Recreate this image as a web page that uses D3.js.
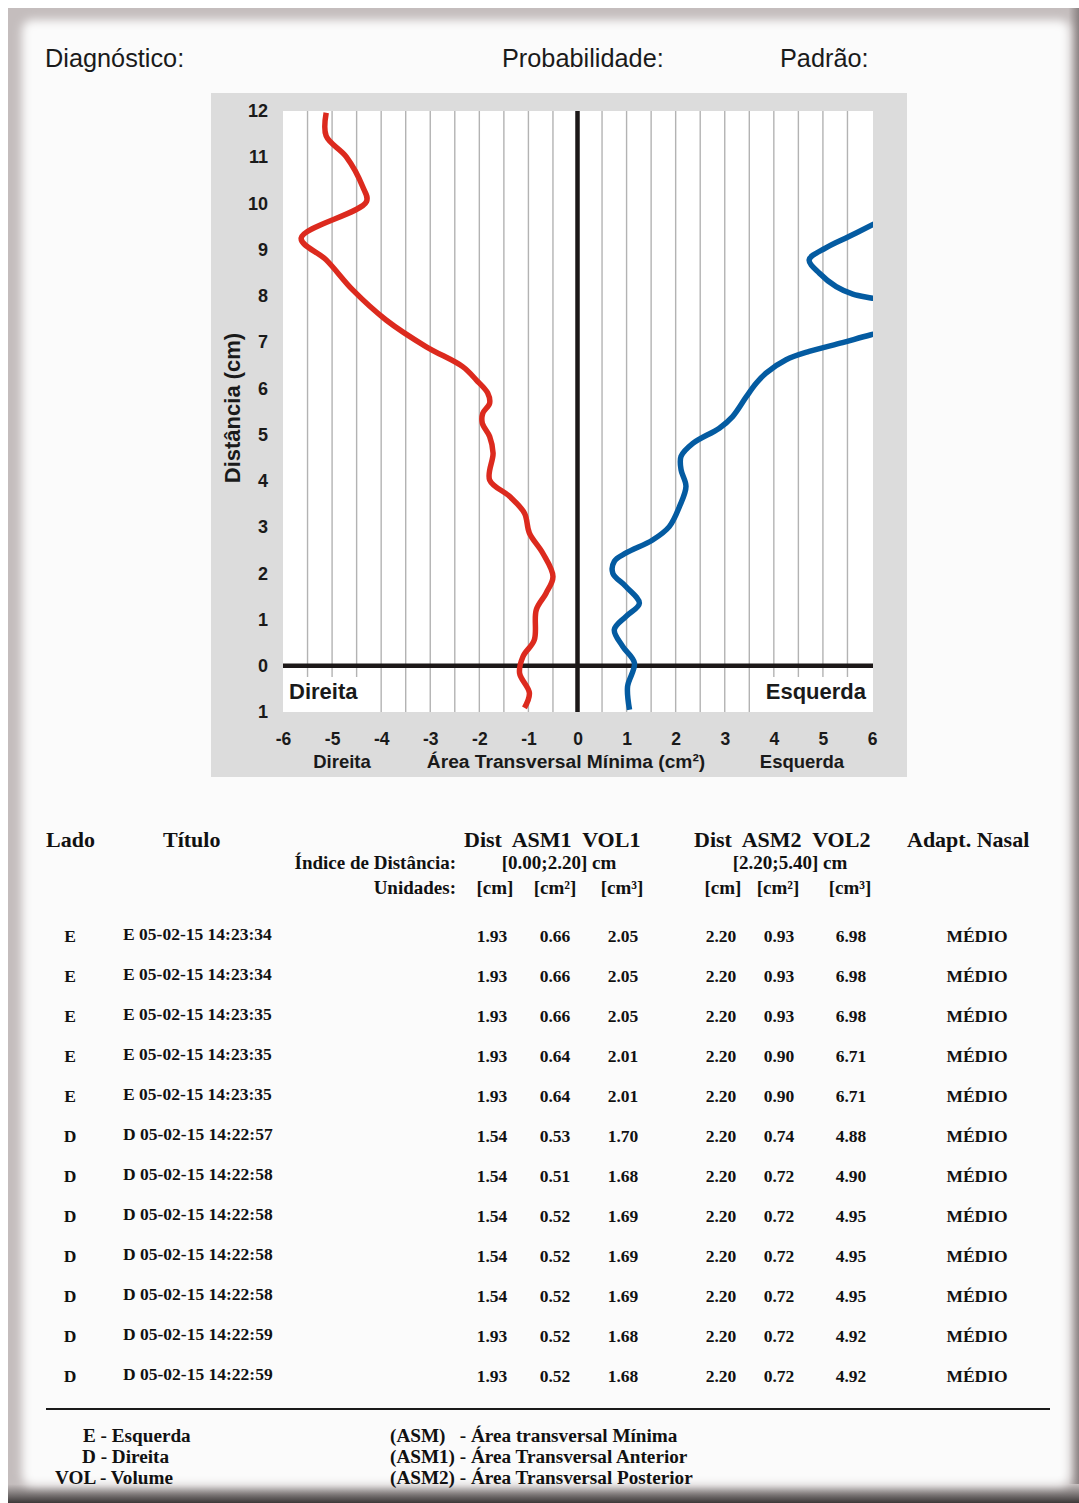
<!DOCTYPE html>
<html>
<head>
<meta charset="utf-8">
<script src="https://cdn.jsdelivr.net/npm/d3@7"></script>
<style>
  html, body { margin: 0; padding: 0; background: #ffffff; }
  svg { display: block; }
</style>
</head>
<body>
<script>
// ---------------- DATA ----------------
const xTickValues = [-6, -5, -4, -3, -2, -1, 0, 1, 2, 3, 4, 5, 6];
const xTickLabels = ["-6", "-5", "-4", "-3", "-2", "-1", "0", "1", "2", "3", "4", "5", "6"];
const yTickValues = [-1, 0, 1, 2, 3, 4, 5, 6, 7, 8, 9, 10, 11, 12];
const yTickLabels = ["1", "0", "1", "2", "3", "4", "5", "6", "7", "8", "9", "10", "11", "12"];

// Direita (red) – distance (cm) and area (cm², plotted negative)
const redDist = [11.96, 11.46, 11.01, 10.37, 10.04, 9.25, 8.78, 8.13, 7.48, 6.90, 6.47, 6.18, 5.90, 5.68, 5.46, 5.25, 4.96, 4.60, 4.02, 3.66, 3.30, 2.87, 2.44, 1.93, 1.57, 1.21, 0.56, 0.20, -0.16, -0.59, -0.91];
const redArea = [-5.12, -5.12, -4.71, -4.38, -4.30, -5.63, -5.12, -4.58, -3.90, -3.08, -2.34, -2.06, -1.83, -1.79, -1.93, -1.94, -1.79, -1.72, -1.79, -1.38, -1.08, -0.98, -0.71, -0.50, -0.64, -0.84, -0.88, -1.11, -1.18, -0.98, -1.08];

// Esquerda (blue) – distance (cm) and area (cm²); values beyond 6 leave the plot
const blueDist = [9.95, 9.54, 9.29, 9.04, 8.78, 8.49, 8.20, 8.04, 7.95, 7.75, 7.40, 7.16, 6.99, 6.80, 6.62, 6.33, 6.11, 5.82, 5.39, 5.14, 4.81, 4.53, 4.24, 3.88, 3.45, 3.01, 2.72, 2.44, 2.26, 2.00, 1.71, 1.35, 1.07, 0.78, 0.42, 0.06, -0.45, -0.95];
const blueArea = [6.80, 6.01, 5.54, 5.06, 4.72, 4.93, 5.27, 5.61, 6.01, 7.00, 7.00, 5.98, 5.40, 4.72, 4.25, 3.84, 3.64, 3.44, 3.16, 2.89, 2.35, 2.11, 2.11, 2.21, 2.08, 1.87, 1.53, 0.99, 0.75, 0.72, 0.99, 1.26, 0.99, 0.75, 0.92, 1.16, 1.02, 1.06];

// Table
const headerTop = ["Lado", "Título", "Dist  ASM1  VOL1", "Dist  ASM2  VOL2", "Adapt. Nasal"];
const indexLabel = "Índice de Distância:";
const unitsLabel = "Unidades:";
const ranges = ["[0.00;2.20] cm", "[2.20;5.40] cm"];
const units = ["[cm]", "[cm²]", "[cm³]", "[cm]", "[cm²]", "[cm³]"];
const sides = ["E", "E", "E", "E", "E", "D", "D", "D", "D", "D", "D", "D"];
const titles = ["E 05-02-15 14:23:34", "E 05-02-15 14:23:34", "E 05-02-15 14:23:35", "E 05-02-15 14:23:35", "E 05-02-15 14:23:35",
  "D 05-02-15 14:22:57", "D 05-02-15 14:22:58", "D 05-02-15 14:22:58", "D 05-02-15 14:22:58", "D 05-02-15 14:22:58",
  "D 05-02-15 14:22:59", "D 05-02-15 14:22:59"];
const dist1 = ["1.93", "1.93", "1.93", "1.93", "1.93", "1.54", "1.54", "1.54", "1.54", "1.54", "1.93", "1.93"];
const asm1 = ["0.66", "0.66", "0.66", "0.64", "0.64", "0.53", "0.51", "0.52", "0.52", "0.52", "0.52", "0.52"];
const vol1 = ["2.05", "2.05", "2.05", "2.01", "2.01", "1.70", "1.68", "1.69", "1.69", "1.69", "1.68", "1.68"];
const dist2 = ["2.20", "2.20", "2.20", "2.20", "2.20", "2.20", "2.20", "2.20", "2.20", "2.20", "2.20", "2.20"];
const asm2 = ["0.93", "0.93", "0.93", "0.90", "0.90", "0.74", "0.72", "0.72", "0.72", "0.72", "0.72", "0.72"];
const vol2 = ["6.98", "6.98", "6.98", "6.71", "6.71", "4.88", "4.90", "4.95", "4.95", "4.95", "4.92", "4.92"];
const adapt = ["MÉDIO", "MÉDIO", "MÉDIO", "MÉDIO", "MÉDIO", "MÉDIO", "MÉDIO", "MÉDIO", "MÉDIO", "MÉDIO", "MÉDIO", "MÉDIO"];

const legendLeft = ["E - Esquerda", "D - Direita", "VOL - Volume"];
const legendRight = ["(ASM)   - Área transversal Mínima", "(ASM1) - Área Transversal Anterior", "(ASM2) - Área Transversal Posterior"];

// ---------------- DRAW ----------------
const W = 1079, H = 1503;
const svg = d3.select("body").append("svg").attr("width", W).attr("height", H);
const defs = svg.append("defs");

// frame
const fb = defs.append("filter").attr("id", "soft").attr("x", "-5%").attr("y", "-5%").attr("width", "110%").attr("height", "110%");
fb.append("feGaussianBlur").attr("stdDeviation", 5);
const gb = defs.append("linearGradient").attr("id", "gBottom").attr("x1", 0).attr("y1", 0).attr("x2", 0).attr("y2", 1);
gb.append("stop").attr("offset", "0%").attr("stop-color", "#c6bfbf");
gb.append("stop").attr("offset", "100%").attr("stop-color", "#3c3838");
const gr = defs.append("linearGradient").attr("id", "gRight").attr("x1", 0).attr("y1", 0).attr("x2", 1).attr("y2", 0);
gr.append("stop").attr("offset", "0%").attr("stop-color", "#c6bfbf");
gr.append("stop").attr("offset", "100%").attr("stop-color", "#8a8282");

svg.append("rect").attr("x", 0).attr("y", 0).attr("width", W).attr("height", H).attr("fill", "#ffffff");
svg.append("rect").attr("x", 8).attr("y", 8).attr("width", W - 8).attr("height", H - 8).attr("fill", "#c4bdbd");
svg.append("rect").attr("x", 1068).attr("y", 8).attr("width", 11).attr("height", H - 8).attr("fill", "url(#gRight)");
svg.append("rect").attr("x", 8).attr("y", 1484).attr("width", W - 8).attr("height", 19).attr("fill", "url(#gBottom)");
svg.append("rect").attr("x", 22).attr("y", 20).attr("width", 1048).attr("height", 1466).attr("rx", 10)
  .attr("fill", "#fbfbfb").attr("filter", "url(#soft)");
svg.append("rect").attr("x", 34).attr("y", 32).attr("width", 1026).attr("height", 1444).attr("fill", "#fbfbfb");

// header labels
const sans = "'Liberation Sans', Arial, sans-serif";
const serif = "'Liberation Serif', 'Times New Roman', serif";
const hdr = svg.append("g").attr("font-family", sans).attr("font-size", 25.3).attr("fill", "#1a1a1a");
hdr.append("text").attr("x", 45).attr("y", 67).text("Diagnóstico:");
hdr.append("text").attr("x", 502).attr("y", 67).text("Probabilidade:");
hdr.append("text").attr("x", 780).attr("y", 67).text("Padrão:");

// chart panel
svg.append("rect").attr("x", 211).attr("y", 93).attr("width", 696).attr("height", 684).attr("fill", "#dcdcdc");

const x = d3.scaleLinear().domain([-6, 6]).range([283, 872]);
const y = d3.scaleLinear().domain([-1, 12]).range([712, 111]);

svg.append("rect").attr("x", 283).attr("y", 111).attr("width", 590).attr("height", 601).attr("fill", "#ffffff");

defs.append("clipPath").attr("id", "plotClip").append("rect")
  .attr("x", 283).attr("y", 111).attr("width", 590).attr("height", 601);

// gridlines every 0.5
const gridVals = d3.range(-5.5, 6, 0.5).filter(v => Math.abs(v) > 1e-9);
svg.append("g").selectAll("line").data(gridVals).join("line")
  .attr("x1", d => x(d)).attr("x2", d => x(d))
  .attr("y1", 111).attr("y2", 712)
  .attr("stroke", "#b3b3b3").attr("stroke-width", 1.4);

// white label boxes inside the plot
svg.append("rect").attr("x", 284).attr("y", 677).attr("width", 78).attr("height", 35).attr("fill", "#ffffff");
svg.append("rect").attr("x", 758).attr("y", 677).attr("width", 114).attr("height", 35).attr("fill", "#ffffff");

// main axes lines
svg.append("line").attr("x1", x(-6)).attr("x2", 873).attr("y1", y(0)).attr("y2", y(0))
  .attr("stroke", "#1c1818").attr("stroke-width", 4.5);
svg.append("line").attr("x1", x(0)).attr("x2", x(0)).attr("y1", 111).attr("y2", 712)
  .attr("stroke", "#1c1818").attr("stroke-width", 4.5);

// curves
const line = d3.line().x(d => x(d[1])).y(d => y(d[0])).curve(d3.curveCatmullRom.alpha(0.5));
const curves = svg.append("g").attr("clip-path", "url(#plotClip)");
curves.append("path").datum(redDist.map((d, i) => [d, redArea[i]]))
  .attr("d", line).attr("fill", "none").attr("stroke", "#dc2a1e").attr("stroke-width", 5.5)
  .attr("stroke-linejoin", "miter");
curves.append("path").datum(blueDist.map((d, i) => [d, blueArea[i]]))
  .attr("d", line).attr("fill", "none").attr("stroke", "#045ba1").attr("stroke-width", 5.5)
  .attr("stroke-linejoin", "miter");

// in-plot labels
svg.append("text").attr("x", 289).attr("y", 699).attr("font-family", sans).attr("font-weight", "bold")
  .attr("font-size", 22).attr("fill", "#1a1a1a").text("Direita");
svg.append("text").attr("x", 866).attr("y", 699).attr("text-anchor", "end").attr("font-family", sans).attr("font-weight", "bold")
  .attr("font-size", 22).attr("fill", "#1a1a1a").text("Esquerda");

// y axis
const yAxis = d3.axisLeft(y).tickValues(yTickValues).tickSize(0).tickPadding(15)
  .tickFormat((d, i) => yTickLabels[i]);
const gy = svg.append("g").attr("transform", "translate(283,0)").call(yAxis);
gy.select(".domain").remove();
gy.selectAll("text").attr("font-family", sans).attr("font-weight", "bold").attr("font-size", 18).attr("fill", "#1a1a1a");

// x axis
const xAxis = d3.axisBottom(x).tickValues(xTickValues).tickSize(0).tickPadding(21)
  .tickFormat((d, i) => xTickLabels[i]);
const gx = svg.append("g").attr("transform", "translate(0,712)").call(xAxis);
gx.select(".domain").remove();
gx.selectAll("text").attr("font-family", sans).attr("font-weight", "bold").attr("font-size", 17.5).attr("fill", "#1a1a1a");

const axLab = svg.append("g").attr("font-family", sans).attr("font-weight", "bold").attr("font-size", 18.5)
  .attr("fill", "#1a1a1a").attr("text-anchor", "middle");
axLab.append("text").attr("x", 342).attr("y", 768).text("Direita");
axLab.append("text").attr("x", 566).attr("y", 768).attr("font-size", 19.2).text("Área Transversal Mínima (cm²)");
axLab.append("text").attr("x", 802).attr("y", 768).text("Esquerda");
axLab.append("text").attr("transform", "translate(240,408) rotate(-90)").attr("font-size", 22).text("Distância (cm)");

// ---------------- TABLE ----------------
const tb = svg.append("g").attr("font-family", serif).attr("font-weight", "bold").attr("fill", "#111");
const hx = [46, 163, 464, 694, 907];
tb.selectAll("text.h").data(headerTop).join("text").attr("class", "h")
  .attr("x", (d, i) => hx[i]).attr("y", 847).attr("font-size", 22)
  .style("white-space", "pre").attr("xml:space", "preserve").text(d => d);

tb.append("text").attr("x", 456).attr("y", 869).attr("font-size", 19).attr("text-anchor", "end").text(indexLabel);
tb.append("text").attr("x", 456).attr("y", 894).attr("font-size", 19).attr("text-anchor", "end").text(unitsLabel);
const rx = [559, 790];
tb.selectAll("text.r").data(ranges).join("text").attr("class", "r")
  .attr("x", (d, i) => rx[i]).attr("y", 869).attr("font-size", 19).attr("text-anchor", "middle").text(d => d);
const ux = [495, 555, 622, 723, 778, 850];
tb.selectAll("text.u").data(units).join("text").attr("class", "u")
  .attr("x", (d, i) => ux[i]).attr("y", 894).attr("font-size", 19).attr("text-anchor", "middle").text(d => d);

const rowY = d3.scaleLinear().domain([0, sides.length - 1]).range([942, 1382]);
const cols = [
  { vals: sides, x: 70, anchor: "middle", dy: 0 },
  { vals: titles, x: 123, anchor: "start", dy: -2 },
  { vals: dist1, x: 492, anchor: "middle", dy: 0 },
  { vals: asm1, x: 555, anchor: "middle", dy: 0 },
  { vals: vol1, x: 623, anchor: "middle", dy: 0 },
  { vals: dist2, x: 721, anchor: "middle", dy: 0 },
  { vals: asm2, x: 779, anchor: "middle", dy: 0 },
  { vals: vol2, x: 851, anchor: "middle", dy: 0 },
  { vals: adapt, x: 977, anchor: "middle", dy: 0 }
];
cols.forEach(c => {
  tb.append("g").selectAll("text").data(c.vals).join("text")
    .attr("x", c.x).attr("y", (d, i) => rowY(i) + c.dy)
    .attr("text-anchor", c.anchor).attr("font-size", 17.5).text(d => d);
});

// separator
svg.append("line").attr("x1", 46).attr("x2", 1050).attr("y1", 1409).attr("y2", 1409)
  .attr("stroke", "#1a1a1a").attr("stroke-width", 2);

// legend
const lgY = [1442, 1463, 1484];
const lgLX = [83, 82, 55];
tb.selectAll("text.ll").data(legendLeft).join("text").attr("class", "ll")
  .attr("x", (d, i) => lgLX[i]).attr("y", (d, i) => lgY[i]).attr("font-size", 19.2).text(d => d);
tb.selectAll("text.lr").data(legendRight).join("text").attr("class", "lr")
  .attr("x", 390).attr("y", (d, i) => lgY[i]).attr("font-size", 19.2)
  .style("white-space", "pre").attr("xml:space", "preserve").text(d => d);
</script>
</body>
</html>
